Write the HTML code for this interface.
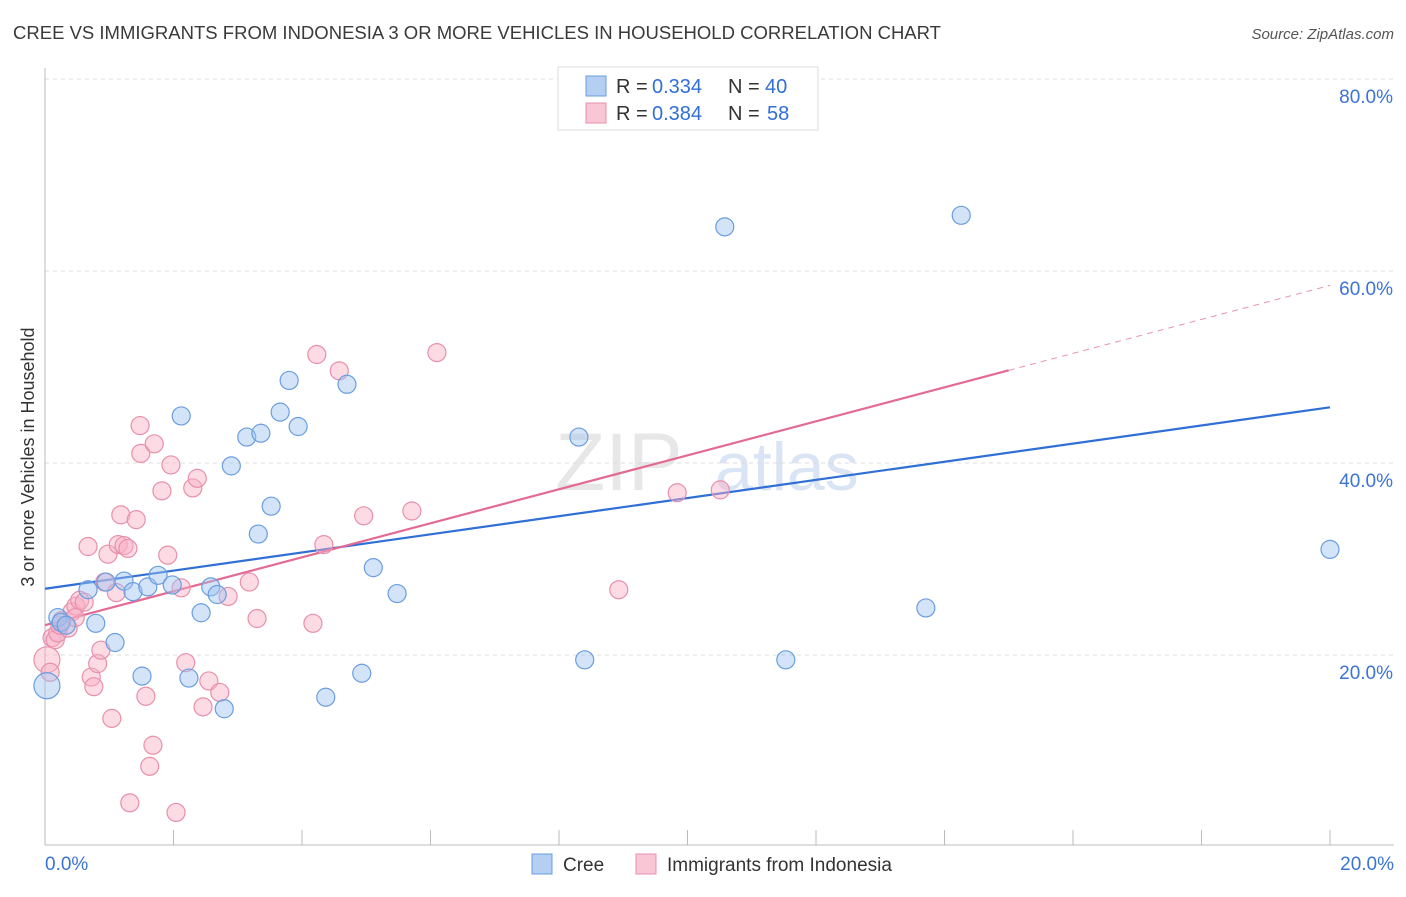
<!DOCTYPE html>
<html><head><meta charset="utf-8"><style>
body{margin:0;background:#fff;font-family:"Liberation Sans",sans-serif}
svg text{font-family:"Liberation Sans",sans-serif}
</style></head><body>
<svg id="chart" width="1406" height="892" xmlns="http://www.w3.org/2000/svg">
<text x="13" y="39" font-size="18" fill="#3a3a3a" textLength="928" lengthAdjust="spacingAndGlyphs">CREE VS IMMIGRANTS FROM INDONESIA 3 OR MORE VEHICLES IN HOUSEHOLD CORRELATION CHART</text>
<text x="1394" y="39" font-size="15" fill="#555" text-anchor="end" font-style="italic">Source: ZipAtlas.com</text>
<text x="555" y="490" font-size="82" fill="#ddd" font-family="Liberation Serif" opacity="0.7">ZIP</text>
<text x="715" y="490" font-size="68" fill="#c9daf0" opacity="0.7">atlas</text>
<text transform="translate(34,457) rotate(-90)" font-size="18" fill="#333" text-anchor="middle">3 or more Vehicles in Household</text>
<g id="grid"></g><g id="axes"></g><g id="lines"></g><g id="pts"></g>
<g>
<rect x="558" y="67" width="260" height="63" fill="#fff" stroke="#ddd"/>
<rect x="586" y="76" width="20" height="20" fill="#b4cff2" stroke="#6a9ee0"/>
<rect x="586" y="103" width="20" height="20" fill="#f9c6d5" stroke="#e890ab"/>
<text x="616" y="93" font-size="20" fill="#333">R =</text><text x="652" y="93" font-size="20" fill="#2f6fd6">0.334</text>
<text x="728" y="93" font-size="20" fill="#333">N =</text><text x="765" y="93" font-size="20" fill="#2f6fd6">40</text>
<text x="616" y="120" font-size="20" fill="#333">R =</text><text x="652" y="120" font-size="20" fill="#2f6fd6">0.384</text>
<text x="728" y="120" font-size="20" fill="#333">N =</text><text x="767" y="120" font-size="20" fill="#2f6fd6">58</text>
</g>
<g>
<rect x="532" y="854" width="20" height="20" fill="#b4cff2" stroke="#6a9ee0"/>
<text x="563" y="871" font-size="19" fill="#333">Cree</text>
<rect x="636" y="854" width="20" height="20" fill="#f9c6d5" stroke="#e890ab"/>
<text x="667" y="871" font-size="19" fill="#333">Immigrants from Indonesia</text>
</g>
</svg>
<script>
const creeX=[0.03,0.20,0.25,0.33,0.67,0.79,0.95,1.09,1.23,1.37,1.51,1.60,1.76,1.98,2.12,2.24,2.43,2.58,2.68,2.79,2.90,3.14,3.36,3.32,3.52,3.66,3.80,3.94,4.37,4.70,4.93,5.11,5.48,8.31,8.40,10.58,11.53,13.71,14.26,20.0];
const creeY=[16.8,23.9,23.4,23.1,26.8,23.3,27.6,21.3,27.7,26.6,17.8,27.1,28.3,27.3,44.9,17.6,24.4,27.1,26.3,14.4,39.7,42.7,43.1,32.6,35.5,45.3,48.6,43.8,15.6,48.2,18.1,29.1,26.4,42.7,19.5,64.6,19.5,24.9,65.8,31.0];
const indoX=[0.03,0.08,0.11,0.16,0.20,0.23,0.26,0.36,0.42,0.48,0.54,0.61,0.47,0.67,0.72,0.76,0.82,0.87,0.93,0.98,1.04,1.11,1.14,1.18,1.23,1.29,1.32,1.42,1.48,1.49,1.57,1.63,1.68,1.70,1.82,1.91,1.96,2.04,2.12,2.19,2.30,2.37,2.46,2.55,2.72,2.85,3.18,3.30,4.17,4.23,4.34,4.58,4.96,5.71,6.10,8.93,9.84,10.51];
const indoY=[19.5,18.2,21.8,21.6,22.3,23.1,23.6,22.8,24.5,25.1,25.7,25.5,23.9,31.3,17.7,16.7,19.1,20.5,27.6,30.5,13.4,26.5,31.5,34.6,31.4,31.1,4.6,34.1,43.9,41.0,15.7,8.4,10.6,42.0,37.1,30.4,39.8,3.6,27.0,19.2,37.4,38.4,14.6,17.3,16.1,26.1,27.6,23.8,23.3,51.3,31.5,49.6,34.5,35.0,51.5,26.8,36.9,37.2];
const creeTrend=[26.9,45.8];
const indoTrend=[23.1,58.5];
const xTicks=["0.0%","20.0%"];
const yTicks=[20,40,60,80];
const NS="http://www.w3.org/2000/svg";
const X=v=>45+v*64.25, Y=v=>847-v*9.6;
function mk(t,a,p){const e=document.createElementNS(NS,t);for(const k in a)e.setAttribute(k,a[k]);document.getElementById(p).appendChild(e);return e;}
yTicks.forEach(t=>{
 const g=mk('line',{x1:45,x2:1394,y1:Y(t),y2:Y(t),stroke:'#ddd','stroke-dasharray':'4,4'},'grid');
 
 
 const l=mk('text',{x:1393,y:Y(t)+24,'font-size':19,fill:'#3b73d6','text-anchor':'end'},'grid');
 l.textContent=t.toFixed(1)+'%';
 
 
});
const ax=mk('line',{x1:45,x2:45,y1:68,y2:845,stroke:'#bbb'},'axes');


const bx=mk('line',{x1:45,x2:1394,y1:845,y2:845,stroke:'#bbb'},'axes');


for(let i=0;i<=20;i+=2){const t=mk('line',{x1:X(i),x2:X(i),y1:830,y2:845,stroke:'#bbb'},'axes');
 
 }
[[0,'start',45],[1,'end',1394]].forEach(([i,a,x])=>{const t=mk('text',{x:x,y:870,'font-size':19,fill:'#3b73d6','text-anchor':a},'axes');t.textContent=xTicks[i];
 
 });
function pts(xs,ys,fill,stroke,name){xs.forEach((x,i)=>{const big=x<0.05;const c=mk('circle',{cx:X(x),cy:Y(ys[i]),r:big?13:9,fill:fill,stroke:stroke,'stroke-width':1.2},'pts');
 
 });}
pts(indoX,indoY,'rgba(248,176,198,0.45)','#e890ab','indonesia-point');
pts(creeX,creeY,'rgba(160,196,240,0.45)','#6a9ee0','cree-point');
const cl=mk('line',{x1:X(0),y1:Y(creeTrend[0]),x2:X(20),y2:Y(creeTrend[1]),stroke:'#2f6fd6','stroke-width':2.2},'lines');


const f=v=>indoTrend[0]+(indoTrend[1]-indoTrend[0])*v/20;
const il=mk('line',{x1:X(0),y1:Y(f(0)),x2:X(15),y2:Y(f(15)),stroke:'#e36a93','stroke-width':2.2},'lines');


const id=mk('line',{x1:X(15),y1:Y(f(15)),x2:X(20),y2:Y(f(20)),stroke:'#e890ab','stroke-width':1,'stroke-dasharray':'6,5'},'lines');


</script>
</body></html>
